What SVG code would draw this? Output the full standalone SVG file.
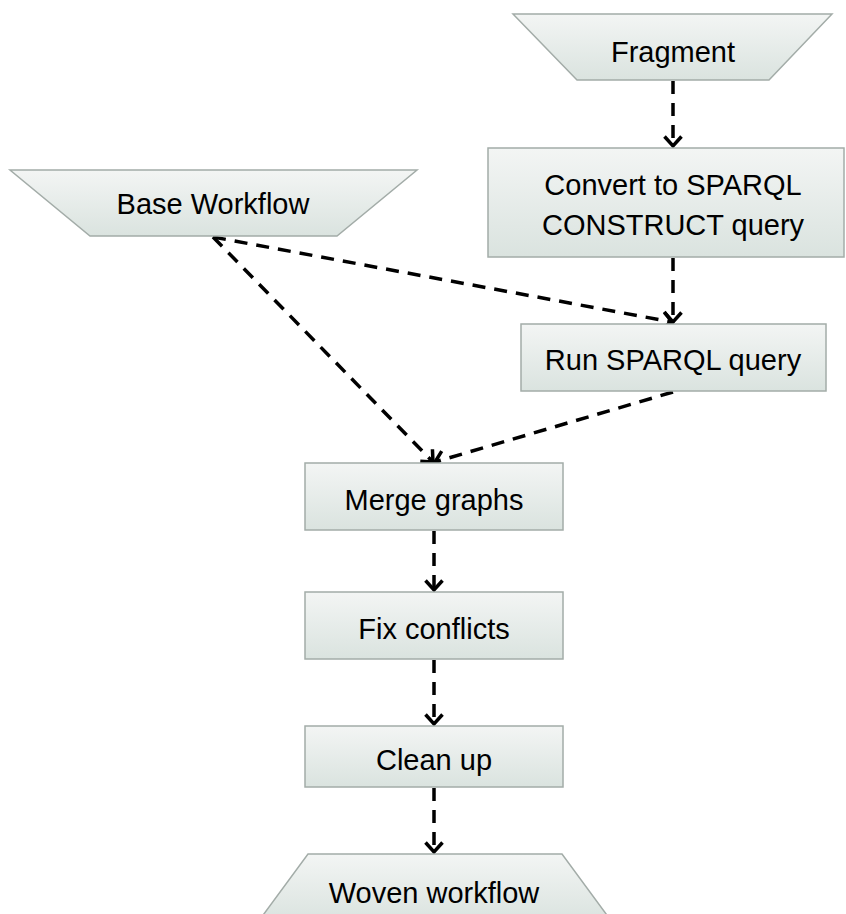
<svg xmlns="http://www.w3.org/2000/svg" width="846" height="914" viewBox="0 0 846 914">
<defs>
<linearGradient id="g" x1="0" y1="0" x2="0" y2="1">
<stop offset="0" stop-color="#f3f5f4"/>
<stop offset="1" stop-color="#dae3df"/>
</linearGradient>
<marker id="arr" markerUnits="userSpaceOnUse" markerWidth="24" markerHeight="24" refX="11" refY="10" orient="auto" viewBox="0 0 24 20">
<path d="M1.5,1.5 L11,10 L1.5,18.5" fill="none" stroke="#000" stroke-width="3.5"/>
</marker>
<style>
.shape{fill:url(#g);stroke:#a3aca8;stroke-width:1.5}
.t{font-family:"Liberation Sans",Arial,sans-serif;font-size:29px;fill:#000;text-anchor:middle}
.c{fill:none;stroke:#000;stroke-width:3.5;stroke-dasharray:13 9;marker-end:url(#arr)}
</style>
</defs>
<rect width="846" height="914" fill="#fff"/>
<g id="connectors">
<line class="c" x1="673" y1="81" x2="673" y2="146"/>
<line class="c" x1="673" y1="258" x2="673" y2="322"/>
<line class="c" x1="213" y1="237" x2="672" y2="322"/>
<line class="c" x1="213" y1="237" x2="433" y2="462"/>
<line class="c" x1="673" y1="392" x2="435" y2="462"/>
<line class="c" x1="434" y1="531" x2="434" y2="590"/>
<line class="c" x1="434" y1="660" x2="434" y2="724"/>
<line class="c" x1="434" y1="788" x2="434" y2="852"/>
</g>
<g id="fragment">
<polygon class="shape" points="513,14 832,14 769,80 577,80"/>
<text class="t" x="673" y="62">Fragment</text>
</g>
<g id="base-workflow">
<polygon class="shape" points="10,170 417,170 337,236 90,236"/>
<text class="t" x="213" y="214">Base Workflow</text>
</g>
<g id="convert">
<rect class="shape" x="488" y="148" width="356" height="109"/>
<text class="t" x="673" y="195">Convert to SPARQL</text>
<text class="t" x="673" y="235">CONSTRUCT query</text>
</g>
<g id="run-query">
<rect class="shape" x="521" y="324" width="305" height="67"/>
<text class="t" x="673" y="370">Run SPARQL query</text>
</g>
<g id="merge">
<rect class="shape" x="305" y="463" width="258" height="67"/>
<text class="t" x="434" y="510">Merge graphs</text>
</g>
<g id="fix">
<rect class="shape" x="305" y="592" width="258" height="67"/>
<text class="t" x="434" y="639">Fix conflicts</text>
</g>
<g id="clean">
<rect class="shape" x="305" y="726" width="258" height="61"/>
<text class="t" x="434" y="770">Clean up</text>
</g>
<g id="woven">
<polygon class="shape" points="308,854 562,854 612,922 258,922"/>
<text class="t" x="434" y="903">Woven workflow</text>
</g>
</svg>
